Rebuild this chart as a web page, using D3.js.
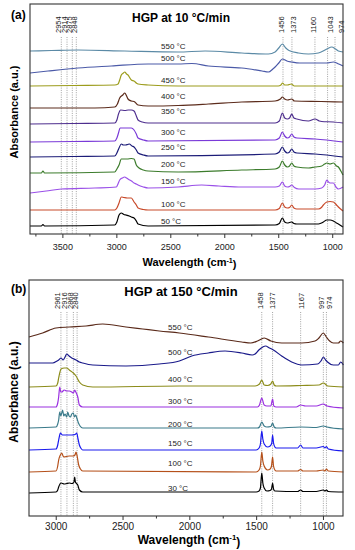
<!DOCTYPE html>
<html>
<head>
<meta charset="utf-8">
<script src="https://cdn.jsdelivr.net/npm/d3@7"></script>
<style>
  body { margin: 0; background: #fff; }
  svg { display: block; font-family: "Liberation Sans", Arial, sans-serif; }
</style>
</head>
<body>
<svg id="chart" width="355" height="550"></svg>
<script>
// ---- panel (a): HGP at 10 °C/min, [wavenumber, stacked absorbance] ----
const tempsA = ["550 °C", "500 °C", "450 °C", "400 °C", "350 °C", "300 °C", "250 °C", "200 °C", "150 °C", "100 °C", "50 °C"];

const a550 = [[3800,183],[3600,183.5],[3355,184],[2922,183],[2428,182],[2178,183],[1838,181],[1591,180],[1529,182],[1495,186],[1462,190],[1430,186],[1400,183.5],[1313,181],[1221,180],[1128,181],[1050,185],[1004,187],[970,185],[943,183],[900,182]];
const a500 = [[3800,161],[3633,163],[3355,166],[3046,168],[2706,170],[2428,170],[2300,170.5],[2147,168],[1838,166],[1650,163],[1591,162],[1550,165],[1529,167],[1495,171],[1462,175],[1420,173],[1375,172],[1300,171],[1221,171],[1050,171],[989,172],[940,170],[900,168]];
const a450 = [[3800,148],[3400,148.5],[3015,149],[2984,150],[2969,154],[2954,159],[2935,161],[2922,162],[2905,160],[2892,159],[2861,154],[2836,153],[2815,151],[2799,150],[2706,149],[2428,148],[1500,148],[1475,149],[1460,151],[1440,149],[1415,149],[1380,150],[1350,148],[900,148]];
const a400 = [[3800,126],[3200,126],[3015,127],[2990,130],[2969,136],[2940,139],[2922,141],[2905,138],[2892,135],[2861,133],[2836,132.5],[2799,129],[2706,128],[2428,128.5],[2147,130],[1838,132],[1529,133],[1480,135],[1462,137],[1440,135],[1415,134],[1375,135],[1350,133],[1100,132.5],[900,132]];
const a350 = [[3800,110],[3400,110.5],[3015,111],[2995,114],[2980,120],[2960,124],[2920,123.5],[2890,124],[2861,124],[2836,123],[2815,118],[2799,114],[2760,112],[2706,111],[1529,111],[1490,113],[1462,121],[1440,116],[1415,115],[1395,116],[1375,120],[1355,116],[1328,115],[1221,113],[1159,115],[1120,113],[1097,112.5],[989,112],[900,111]];
const a300 = [[3800,92],[3400,92.5],[3015,93],[2995,96],[2980,101],[2965,106],[2920,106],[2890,106],[2861,106],[2836,104],[2815,100],[2799,96],[2750,94],[2706,93],[1529,94],[1490,96],[1462,102],[1440,98],[1415,96],[1395,97],[1375,100],[1355,97],[1328,96],[1159,95],[900,92]];
const a250 = [[3800,77],[3400,77.5],[3015,78],[2995,81],[2975,86],[2954,90],[2935,89],[2915,89],[2895,89.5],[2880,90],[2855,88],[2836,87],[2815,84],[2799,81],[2750,79],[2706,78],[1529,80],[1490,82],[1462,87],[1440,83],[1415,81],[1395,82],[1375,85],[1355,82],[1328,81],[1159,80],[900,77]];
const a200 = [[3800,61],[3695,61],[3680,63],[3665,61],[3015,62],[2995,65],[2975,69],[2954,75],[2900,75],[2860,75.5],[2836,75],[2815,69],[2790,66],[2750,64],[2706,63],[2428,62],[1838,64],[1529,65],[1490,67],[1462,73],[1440,69],[1415,67],[1395,68],[1375,71],[1355,68],[1328,67],[1221,66],[1159,67],[1097,68],[1070,70],[1050,71],[1020,70],[989,71],[960,68],[943,67],[920,63],[900,59]];
const a150 = [[3800,41],[3650,43],[3510,45],[3200,46],[3000,47],[2985,50],[2969,54],[2945,56],[2922,57],[2905,56],[2892,55],[2860,53],[2836,51],[2815,50],[2799,49],[2750,47],[2706,46],[2428,47],[2209,49],[2050,48],[1838,47],[1529,47],[1490,48],[1462,52],[1440,48],[1415,47],[1395,47.5],[1375,49],[1350,46.5],[1310,45],[1159,45],[1097,46],[1070,49],[1050,54],[1035,52],[1020,51],[989,51],[965,47],[943,45],[900,47]];
const a100 = [[3800,24],[3015,24],[2995,26],[2975,31],[2954,37],[2930,36.5],[2900,36],[2861,36],[2836,32],[2815,29],[2799,26],[2750,24.5],[2706,24],[1529,24],[1490,25.5],[1462,31],[1440,27],[1415,26],[1395,26.5],[1375,29],[1355,26],[1328,25],[1128,25],[1100,26.5],[1082,29],[1050,32],[1020,32.5],[989,32],[960,29],[943,27],[900,23]];
const a50 = [[3800,8],[3695,8],[3680,9.5],[3665,8],[3015,9],[2995,12],[2975,19],[2954,21],[2930,19.5],[2910,19],[2880,18],[2861,17],[2836,16],[2815,13],[2799,10],[2706,8],[1529,9],[1490,10.5],[1462,16],[1440,12],[1415,11],[1395,11.5],[1375,12],[1355,10.5],[1328,10],[1128,10],[1100,11],[1082,12],[1050,14],[1020,14],[989,13],[960,11],[943,10],[900,7]];

// marker lines: the reference draws the four C-H lines of (a) at these spots
const markerLabelsA = ["2954", "2914", "2875", "2848", "1456", "1373", "1160", "1043", "974"];
const markerPosA = [3510, 3457, 3408, 3371, 1456, 1373, 1160, 1043, 974];
const ticksA = [3500, 3000, 2500, 2000, 1500, 1000];
const minorTicksA = [3750, 3250, 2750, 2250, 1750, 1250];

// ---- panel (b): HGP at 150 °C/min ----
const tempsB = ["550 °C", "500 °C", "400 °C", "300 °C", "200 °C", "150 °C", "100 °C", "30 °C"];

const b550 = [[3200,179],[3098,183],[2998,188],[2898,189],[2773,190],[2648,192],[2474,189],[2349,187],[2225,185],[2075,183],[1858,179],[1608,174],[1540,173],[1490,175],[1440,178],[1390,175],[1309,173],[1159,173],[1059,175],[1030,178],[997,183],[975,179],[950,175],[922,173],[885,173],[867,175],[847,173]];
const b500 = [[3200,153],[3023,153],[2990,155],[2978,156],[2960,158],[2945,156],[2930,159],[2918,162],[2900,160],[2880,158],[2848,156],[2823,154],[2798,153],[2723,151],[2474,150],[2225,152],[2075,155],[1982,160],[1858,163],[1733,165],[1608,163],[1530,161],[1508,162],[1480,166],[1450,169],[1430,170],[1400,168],[1371,166],[1309,160],[1234,154],[1159,151],[1040,152],[1015,155],[997,159],[980,156],[966,154],[922,151],[885,151],[867,154],[847,151]];
const b400 = [[3200,129],[2998,130],[2985,133],[2978,138],[2960,147],[2936,148],[2918,148],[2898,146],[2868,143],[2848,140],[2823,134],[2798,131],[2723,129],[2075,130],[1508,130],[1475,132],[1458,136],[1440,131],[1415,130.5],[1390,132],[1377,135],[1365,131],[1350,130],[1159,130.5],[1030,131],[997,133],[975,131],[966,130],[847,129]];
const b300 = [[3200,109],[2998,109],[2985,113],[2978,119],[2970,129],[2962,124],[2955,124],[2936,126],[2918,125],[2898,125],[2880,124],[2868,123],[2858,126],[2850,124],[2835,119],[2823,111],[2798,109],[1490,109],[1475,111],[1458,118],[1440,111],[1420,110],[1390,110],[1377,117],[1368,110],[1350,109],[1200,109],[1167,111],[1130,110],[1050,110],[997,112],[970,110],[847,108]];
const b200 = [[3200,88],[2998,89],[2985,92],[2978,96],[2970,104],[2962,100],[2955,103],[2948,106],[2940,100],[2930,102],[2918,99],[2910,104],[2900,100],[2890,99],[2880,102],[2868,103],[2860,99],[2850,101],[2840,97],[2830,93],[2818,90],[2798,88],[1490,88],[1475,89],[1458,94],[1440,90],[1420,89],[1390,89.5],[1377,93],[1365,89],[1350,88],[1167,89],[1050,88.5],[997,90],[970,89],[847,87]];
const b150 = [[3200,66],[2998,67],[2985,71],[2978,76],[2965,83],[2950,81],[2920,81],[2880,81],[2855,81.5],[2843,83],[2833,77],[2823,71],[2810,67.5],[2798,66],[1500,66],[1478,68],[1468,72],[1458,85],[1450,77],[1440,72],[1415,69],[1395,70],[1383,73],[1377,81],[1370,73],[1360,69],[1350,68],[1190,68],[1167,71],[1150,68],[1050,68],[997,69.5],[985,68],[974,69.5],[960,67],[847,65]];
const b100 = [[3200,44],[2998,45],[2985,50],[2978,56],[2965,61],[2955,63],[2945,60],[2940,59],[2900,60],[2870,60],[2856,61],[2848,64],[2840,60],[2828,51],[2815,47],[2798,45],[1500,44],[1478,46],[1468,50],[1458,64],[1450,55],[1440,50],[1415,46],[1395,47],[1385,50],[1377,59],[1370,50],[1360,46],[1350,45],[1190,45],[1167,46.5],[1150,45],[1050,45],[997,46],[985,45],[974,47],[960,45],[847,44]];
const b30 = [[3200,23],[2998,24],[2985,26],[2978,29],[2960,33],[2936,32],[2918,32.5],[2898,33],[2880,32.5],[2868,33],[2862,35],[2858,39],[2853,34],[2848,33],[2835,31],[2823,26],[2798,24],[2723,24],[1500,24],[1478,25],[1468,28],[1458,43],[1450,33],[1440,28],[1420,25],[1395,25.5],[1385,27],[1377,33],[1370,27],[1360,25],[1190,24.5],[1167,26],[1150,24.5],[1050,24.5],[997,26],[985,25],[974,26],[960,24.5],[847,24]];

const markerLabelsB = ["2961", "2916", "2868", "2840", "1458", "1377", "1167", "997", "974"];
const markerPosB = [2961, 2916, 2868, 2840, 1458, 1377, 1167, 997, 974];
const ticksB = [3000, 2500, 2000, 1500, 1000];
const minorTicksB = [2750, 2250, 1750, 1250];

const colorsA = ["#5b8aa6", "#4b5aa8", "#9c9c1c", "#5c2c1c", "#4e2e8e", "#7a3ad8", "#1c1c78", "#3c7c2c", "#9a50e8", "#c84a2a", "#000000"];
const colorsB = ["#5a2a1a", "#1a1a8a", "#8c8c1a", "#9a30e0", "#3a7a8a", "#1a1aee", "#b5501a", "#000000"];

const svg = d3.select("#chart");

// linear lookup of a spectrum at a wavenumber, used to place the curve labels
function valueAt(s, w) {
  for (let i = 0; i < s.length - 1; i++) {
    const [w0, v0] = s[i], [w1, v1] = s[i + 1];
    if (w <= w0 && w >= w1) return v0 + (v1 - v0) * (w0 - w) / (w0 - w1);
  }
  return s[s.length - 1][1];
}

function drawPanel(p) {
  const x = d3.scaleLinear(p.xDomain, [p.left, p.right]);
  const y = d3.scaleLinear([0, p.yMax], [p.bottom, p.top]);
  const g = svg.append("g");

  // dotted marker lines + rotated labels
  g.selectAll("line.mark").data(p.markerPos).join("line")
    .attr("x1", d => x(d)).attr("x2", d => x(d))
    .attr("y1", p.markTop).attr("y2", p.bottom)
    .attr("stroke", "#8c8c8c").attr("stroke-width", 0.8)
    .attr("stroke-dasharray", "1,1.3");

  g.selectAll("text.mark").data(p.markerPos).join("text")
    .attr("transform", (d, i) => `translate(${x(d) + p.markShift[i]},${p.markLabelY}) rotate(-90)`)
    .attr("font-size", 7.5).attr("fill", "#222")
    .text((d, i) => p.markerLabels[i]);

  // spectra
  const line = d3.line().x(d => x(d[0])).y(d => y(d[1])).curve(d3.curveMonotoneX);
  g.selectAll("path.spec").data(p.series).join("path")
    .attr("d", line)
    .attr("fill", "none")
    .attr("stroke", (d, i) => p.colors[i])
    .attr("stroke-width", 1.2);

  // temperature labels sitting just above each curve
  g.selectAll("text.temp").data(p.series).join("text")
    .attr("x", p.labelX)
    .attr("y", (d, i) => y(valueAt(d, x.invert(p.labelX))) - p.labelGap[i])
    .attr("font-size", 8).attr("fill", "#222")
    .text((d, i) => p.temps[i]);

  // frame
  g.append("rect")
    .attr("x", p.left).attr("y", p.top)
    .attr("width", p.right - p.left).attr("height", p.bottom - p.top)
    .attr("fill", "none").attr("stroke", "#333").attr("stroke-width", 1.1);

  // x axis: major and minor ticks
  const axis = g.append("g").attr("transform", `translate(0,${p.bottom})`)
    .call(d3.axisBottom(x).tickValues(p.ticks).tickSize(4).tickPadding(p.tickPad).tickFormat(d3.format("d")));
  g.append("g").attr("transform", `translate(0,${p.bottom})`)
    .call(d3.axisBottom(x).tickValues(p.minor).tickSize(2.5).tickFormat(""))
    .call(a => a.select(".domain").remove());
  axis.select(".domain").remove();
  g.selectAll(".tick line").attr("stroke", "#333");
  axis.selectAll(".tick text")
    .attr("font-size", p.tickFont).attr("fill", "#222")
    .attr("font-family", "Liberation Sans, Arial, sans-serif");

  // axis titles
  const xt = g.append("text")
    .attr("x", (p.left + p.right) / 2 + 3).attr("y", p.xTitleY)
    .attr("text-anchor", "middle").attr("font-weight", "bold")
    .attr("font-size", p.titleFont);
  xt.append("tspan").text("Wavelength (cm");
  xt.append("tspan").attr("dy", "-0.45em").attr("font-size", "0.65em").text("-1");
  xt.append("tspan").attr("dy", "0.45em").text(")");

  g.append("text")
    .attr("transform", `translate(18,${p.yTitleY}) rotate(-90)`)
    .attr("text-anchor", "middle").attr("font-weight", "bold")
    .attr("font-size", p.titleFont)
    .text("Absorbance (a.u.)");

  g.append("text")
    .attr("x", 11).attr("y", p.tagY)
    .attr("font-weight", "bold").attr("font-size", 12)
    .text(p.tag);

  g.append("text")
    .attr("x", 181).attr("y", p.headY)
    .attr("text-anchor", "middle").attr("font-weight", "bold")
    .attr("font-size", p.headFont)
    .text(p.head);
}

drawPanel({
  left: 30, right: 343, top: 4, bottom: 234,
  xDomain: [3800, 900], yMax: 230,
  series: [a550, a500, a450, a400, a350, a300, a250, a200, a150, a100, a50],
  temps: tempsA, colors: colorsA,
  markerPos: markerPosA, markerLabels: markerLabelsA,
  markShift: [0, 0, 0, 0.5, 1, 4, 1, 5, 8.5],
  markTop: 37, markLabelY: 33,
  labelX: 161, labelGap: [2.7, 3, 2.7, 7.2, 9, 6, 6, 4, 3.5, 3, 2],
  ticks: ticksA, minor: minorTicksA, tickPad: 6, tickFont: 9,
  xTitleY: 266, yTitleY: 112, titleFont: 11,
  tag: "(a)", tagY: 19, head: "HGP at 10 °C/min", headY: 22, headFont: 12
});

drawPanel({
  left: 29, right: 343, top: 280, bottom: 516,
  xDomain: [3200, 850], yMax: 236,
  series: [b550, b500, b400, b300, b200, b150, b100, b30],
  temps: tempsB, colors: colorsB,
  markerPos: markerPosB, markerLabels: markerLabelsB,
  markShift: [-0.5, 0, -0.5, 1, 1, 2, 3.5, 0.5, 5.7],
  markTop: 312, markLabelY: 309,
  labelX: 168, labelGap: [1.7, 7.2, 4, 3, 1, 4.5, 5.5, 1],
  ticks: ticksB, minor: minorTicksB, tickPad: 3, tickFont: 10,
  xTitleY: 544, yTitleY: 392, titleFont: 12,
  tag: "(b)", tagY: 293, head: "HGP at 150 °C/min", headY: 296, headFont: 13
});
</script>
</body>
</html>
